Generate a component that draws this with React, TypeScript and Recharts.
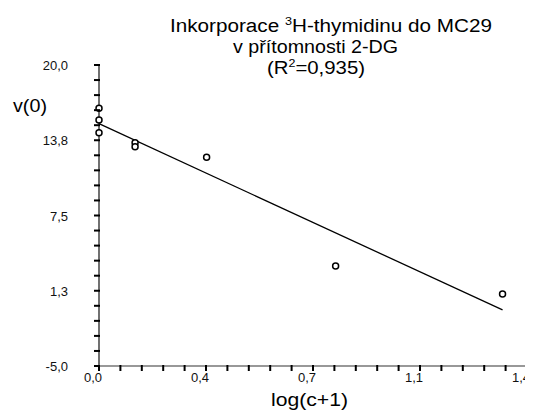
import React from 'react';
import { ComposedChart, Scatter, XAxis, YAxis } from 'recharts';

// log(c+1) of the 2-DG concentrations and measured v(0)
const LOG_CONC = [0, 0, 0, 0.118, 0.118, 0.352, 0.774, 1.32];
const V0 = [16.4, 15.43, 14.38, 13.55, 13.21, 12.33, 3.31, 0.98];

const X_MAJOR = [0, 0.35, 0.7, 1.05, 1.4];
const X_LABELS = ['0,0', '0,4', '0,7', '1,1', '1,4'];
const Y_MAJOR = [-5, 1.25, 7.5, 13.75, 20];
const Y_LABELS = ['-5,0', '1,3', '7,5', '13,8', '20,0'];
const MINOR_STEPS = 5;

const W = 525;
const H = 409;
const FONT = '"Liberation Sans", Arial, sans-serif';
const TICK_LEN = 5;
const Y_TICK_GAP = 27;

const subdivide = (major: number[]) => {
  const out: number[] = [];
  for (let i = 0; i < major.length - 1; i++) {
    const step = (major[i + 1] - major[i]) / MINOR_STEPS;
    for (let k = 0; k < MINOR_STEPS; k++) out.push(+(major[i] + k * step).toFixed(4));
  }
  out.push(major[major.length - 1]);
  return out;
};

const points = LOG_CONC.map((x, i) => ({ x, y: V0[i] }));

// least-squares fit
const n = points.length;
const mx = LOG_CONC.reduce((a, b) => a + b, 0) / n;
const my = V0.reduce((a, b) => a + b, 0) / n;
let sxy = 0;
let sxx = 0;
points.forEach((p) => {
  sxy += (p.x - mx) * (p.y - my);
  sxx += (p.x - mx) ** 2;
});
const slope = sxy / sxx;
const intercept = my - slope * mx;
const xMax = Math.max(...LOG_CONC);
const fit = [
  { x: 0, y: intercept },
  { x: xMax, y: intercept + slope * xMax },
];

const labelFor = (value: number, major: number[], labels: string[]) => {
  const idx = major.findIndex((m) => Math.abs(m - value) < 1e-6);
  return idx >= 0 ? labels[idx] : null;
};

// tick mark below the axis, label only on the major ticks
const XTick = (props: any) => {
  const { x, y, payload } = props;
  const label = labelFor(payload.value, X_MAJOR, X_LABELS);
  return (
    <g>
      <path d={`M${x},${y - TICK_LEN - 1}V${y}`} stroke="#000" strokeWidth={2} fill="none" />
      {label && (
        <text x={x - 6} y={y + 11} textAnchor="middle" fontSize={13} fontFamily={FONT} fill="#111">
          {label}
        </text>
      )}
    </g>
  );
};

const YTick = (props: any) => {
  const { x, y, payload } = props;
  const label = labelFor(payload.value, Y_MAJOR, Y_LABELS);
  const axisX = x + Y_TICK_GAP + TICK_LEN;
  return (
    <g>
      <path d={`M${axisX - TICK_LEN},${y}H${axisX + 1}`} stroke="#000" strokeWidth={2} fill="none" />
      {label && (
        <text x={x + 1} y={y + 5} textAnchor="end" fontSize={13} fontFamily={FONT} fill="#111">
          {label}
        </text>
      )}
    </g>
  );
};

const Dot = (props: any) => {
  const { cx, cy } = props;
  return <circle cx={cx} cy={cy} r={3} fill="#fff" stroke="#000" strokeWidth={1.5} />;
};

export default function App() {
  return (
    <ComposedChart
      width={W}
      height={H}
      margin={{ top: 57, right: 6, bottom: 21, left: 0 }}
      style={{ background: '#fff', fontFamily: FONT }}
    >
      <XAxis
        type="number"
        dataKey="x"
        domain={[0, 1.4]}
        ticks={subdivide(X_MAJOR)}
        interval={0}
        tick={<XTick />}
        tickSize={TICK_LEN}
        tickMargin={0}
        tickLine={false}
        height={30}
        axisLine={{ stroke: '#333', strokeWidth: 1.2 }}
      />
      <YAxis
        type="number"
        dataKey="y"
        domain={[-5, 20]}
        ticks={subdivide(Y_MAJOR)}
        interval={0}
        tick={<YTick />}
        tickSize={TICK_LEN}
        tickMargin={Y_TICK_GAP}
        tickLine={false}
        width={91}
        axisLine={{ stroke: '#111', strokeWidth: 1.2 }}
      />
      <Scatter
        data={fit}
        line={{ stroke: '#000', strokeWidth: 1.3 }}
        lineType="joint"
        shape={() => <g />}
        isAnimationActive={false}
      />
      <Scatter data={points} shape={<Dot />} isAnimationActive={false} />
      <text x={162} y={24} fontSize={18} fontFamily={FONT} textLength={322} lengthAdjust="spacingAndGlyphs">
        Inkorporace <tspan fontSize={11} dy={-7}>3</tspan>
        <tspan dy={7}>H-thymidinu do MC29</tspan>
      </text>
      <text x={225} y={45} fontSize={18} fontFamily={FONT} textLength={165} lengthAdjust="spacingAndGlyphs">
        v přítomnosti 2-DG
      </text>
      <text x={259} y={65.5} fontSize={18} fontFamily={FONT} textLength={98} lengthAdjust="spacingAndGlyphs">
        (R<tspan fontSize={11} dy={-7}>2</tspan>
        <tspan dy={7}>=0,935)</tspan>
      </text>
      <text x={5} y={104} fontSize={18} fontFamily={FONT} textLength={34} lengthAdjust="spacingAndGlyphs">
        v(0)
      </text>
      <text x={263} y={398} fontSize={18} fontFamily={FONT} textLength={77} lengthAdjust="spacingAndGlyphs">
        log(c+1)
      </text>
    </ComposedChart>
  );
}
